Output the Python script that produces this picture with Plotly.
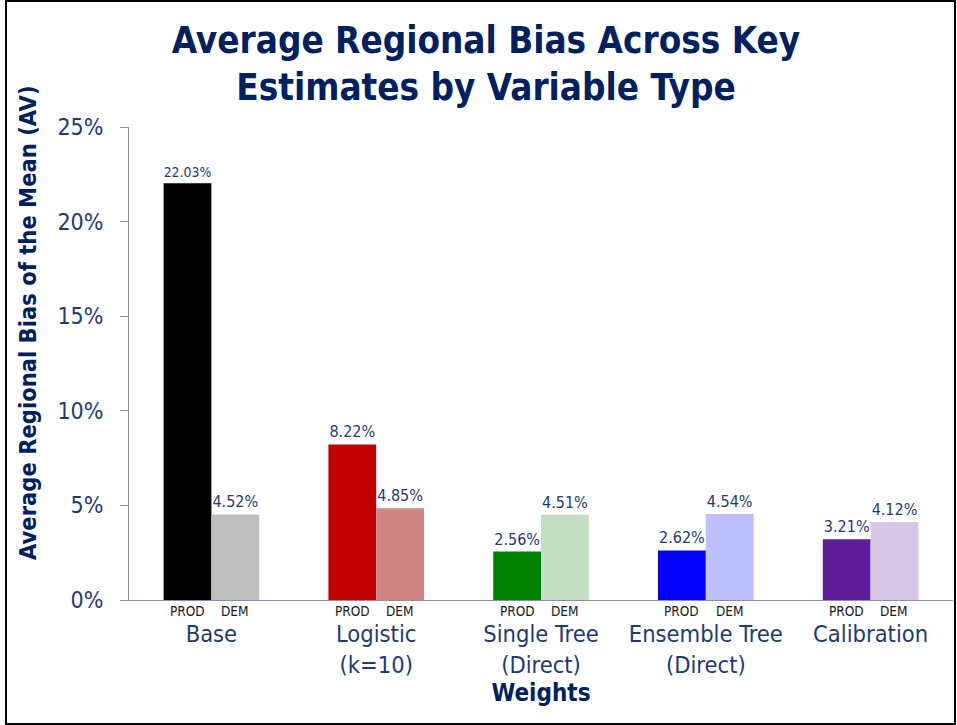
import plotly.graph_objects as go

categories = ["Base", "Logistic<br>(k=10)", "Single Tree<br>(Direct)", "Ensemble Tree<br>(Direct)", "Calibration"]
series_names = ["PROD", "DEM"]
prod_values = [22.03, 8.22, 2.56, 2.62, 3.21]
dem_values = [4.52, 4.85, 4.51, 4.54, 4.12]
prod_colors = ["#000000", "#C00000", "#008000", "#0000FF", "#5C1F99"]
dem_colors = ["#BFBFBF", "#D08585", "#C3DFC3", "#C0C0FF", "#D5C7E6"]
y_ticks = [0, 5, 10, 15, 20, 25]

FONT = "DejaVu Sans Condensed, DejaVu Sans, sans-serif"
NAVY = "#002060"
LABEL = "#1F3A73"
AXIS = "#8C8CA6"

fig = go.Figure()
for name, vals, cols in [("PROD", prod_values, prod_colors), ("DEM", dem_values, dem_colors)]:
    fig.add_trace(go.Bar(
        name=name, x=categories, y=vals,
        marker=dict(color=cols, line=dict(width=0)),
        text=[f"{v:.2f}%" for v in vals], textposition="outside",
        textfont=dict(family=FONT, size=16, color=LABEL),
        cliponaxis=False,
    ))

slot_px = 824 / 5
bargap = 0.42
half = slot_px * (1 - bargap) / 4
for c in categories:
    for name, sh in [("PROD", -half), ("DEM", half)]:
        fig.add_annotation(x=c, xref="x", y=0, yref="paper", yanchor="top",
                           yshift=-2, xshift=sh, text=name, showarrow=False,
                           borderpad=0,
                           font=dict(family=FONT, size=13.5, color="#202020"))

# y-axis title (offset upward like the reference)
fig.add_annotation(x=(28 - 129) / 824, xref="paper", y=(600 - 323) / 473, yref="paper",
                   xanchor="center", yanchor="middle", textangle=-90, showarrow=False,
                   text="<b>Average Regional Bias of the Mean (AV)</b>",
                   font=dict(family=FONT, size=23.5, color=NAVY))

fig.add_shape(type="rect", xref="paper", yref="paper",
              x0=(6 - 129) / 824, x1=(955 - 129) / 824,
              y0=(600 - 724) / 473, y1=(600 - 1) / 473,
              line=dict(color="#000000", width=2), fillcolor="rgba(0,0,0,0)")

fig.update_layout(
    width=957, height=725,
    margin=dict(l=129, r=4, t=127, b=125),
    paper_bgcolor="white", plot_bgcolor="white",
    barmode="group", bargap=bargap, bargroupgap=0,
    showlegend=False,
    title=dict(text="<b>Average Regional Bias Across Key<br>Estimates by Variable Type</b>",
               x=486 / 957, xanchor="center", xref="container",
               y=1 - 53 / 725, yanchor="top", yref="container",
               font=dict(family=FONT, size=36.5, color=NAVY)),
    font=dict(family=FONT),
)
fig.update_yaxes(
    range=[0, 25], tickvals=y_ticks, ticktext=[f"{t}%" for t in y_ticks],
    showgrid=False, zeroline=False, showline=True, linecolor=AXIS, linewidth=1,
    ticks="outside", ticklen=8, tickcolor=AXIS, ticklabelstandoff=12,
    tickfont=dict(family=FONT, size=23, color=LABEL),
)
fig.update_xaxes(
    showgrid=False, showline=True, linecolor=AXIS, linewidth=1, ticks="",
    ticklabelstandoff=13,
    tickfont=dict(family=FONT, size=23.5, color=LABEL),
    title=dict(text="<b>Weights</b>", standoff=3,
               font=dict(family=FONT, size=24, color=NAVY)),
)

fig.write_html("out.html", config={"displayModeBar": False},
               post_script="document.body.style.margin='0px';")
